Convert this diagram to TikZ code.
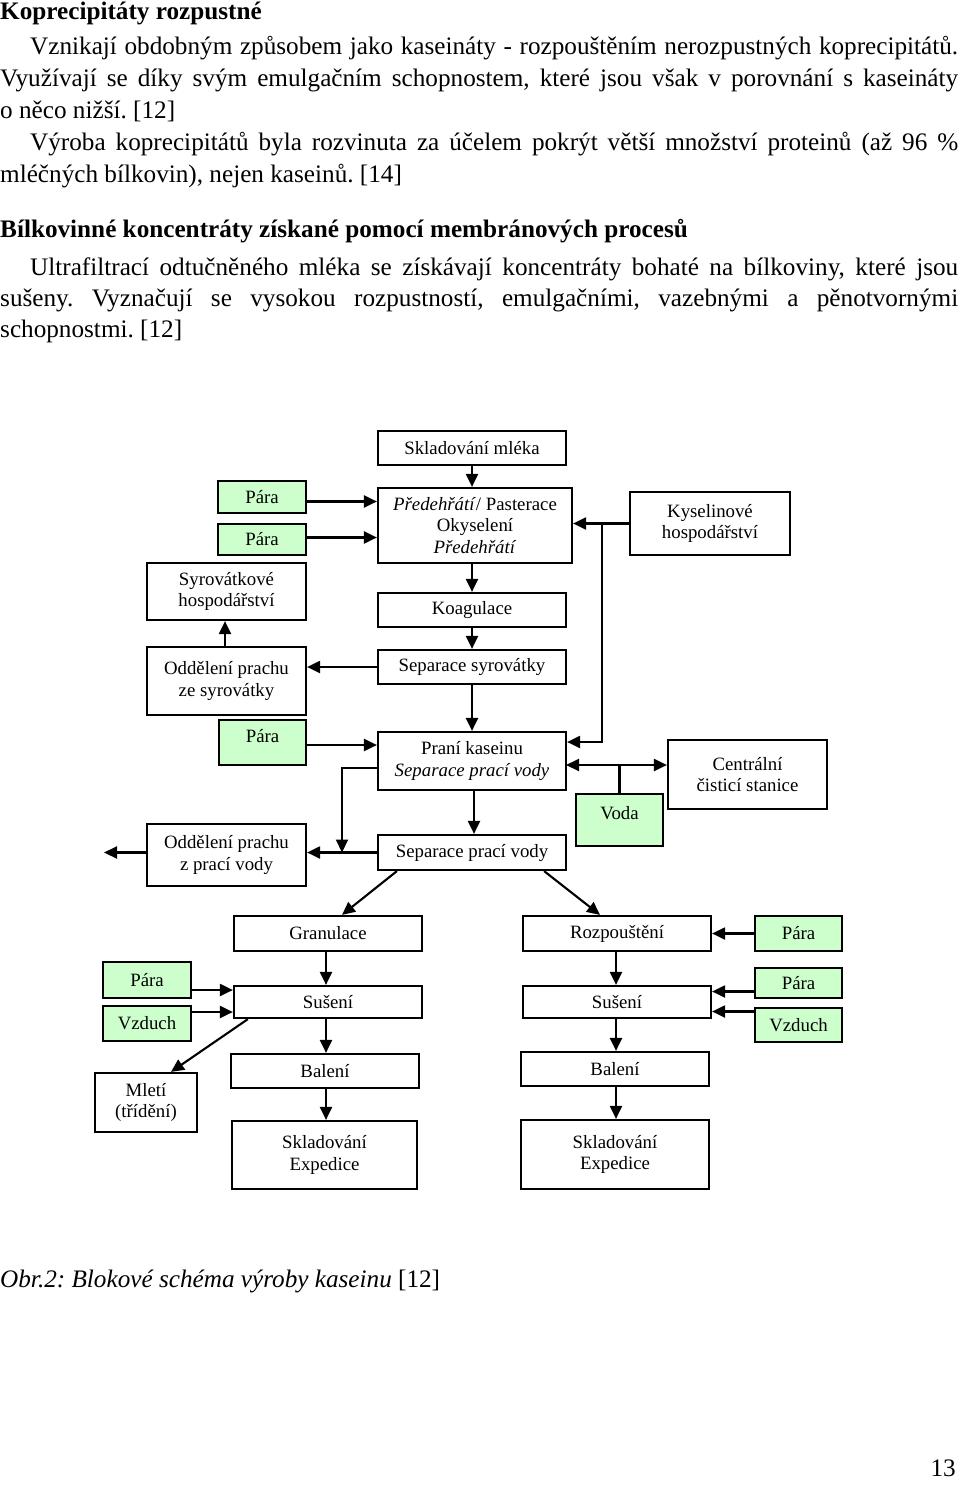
\documentclass[tikz,border=0pt]{standalone}
\usepackage{fontspec}
\setmainfont{Liberation Serif}
\usetikzlibrary{arrows.meta}

\definecolor{parni}{RGB}{204,255,204}
\newcommand{\txtsize}{\fontsize{25.2}{32}\selectfont}
\newcommand{\boxsize}{\fontsize{18.8}{21.7}\selectfont}
\frenchspacing

\tikzset{
	krok/.style={draw, line width=2.2pt, inner sep=0pt, align=center, font=\boxsize},
	medium/.style={krok, fill=parni},
	hrot/.tip={Triangle[length=13pt,width=12pt]},
	sipka/.style={line width=2.1pt, -hrot},
	odstavec/.style={anchor=base west, inner sep=0pt, text width=958pt, align=justify, font=\txtsize},
}

\begin{document}
\begin{tikzpicture}[x=1pt, y=-1pt]
	\useasboundingbox (0,0) rectangle (960,1487);
	
	\node[anchor=base west, inner sep=0pt, font=\txtsize\bfseries] (h1) at (0,19.5) {Koprecipitáty rozpustné};
	\node[odstavec] (p1) at (0,54.5) {\hyphenpenalty=10000\hspace*{30pt}Vznikají obdobným způsobem jako kaseináty - rozpouštěním nerozpustných koprecipitátů.\linebreak Využívají se díky svým emulgačním schopnostem, které jsou však v porovnání s kaseináty\linebreak o něco nižší. [12]};
	\node[odstavec] (p2) at (0,150.5) {\hyphenpenalty=10000\hspace*{30pt}Výroba koprecipitátů byla rozvinuta za účelem pokrýt větší množství proteinů (až 96~\%\linebreak mléčných bílkovin), nejen kaseinů. [14]};
	\node[anchor=base west, inner sep=0pt, font=\txtsize\bfseries] (h2) at (0,237.5) {Bílkovinné koncentráty získané pomocí membránových procesů};
	\node[odstavec, font=\fontsize{25.2}{31}\selectfont] (p3) at (0,275.5) {\hyphenpenalty=10000\hspace*{30pt}Ultrafiltrací odtučněného mléka se získávají koncentráty bohaté na bílkoviny, které jsou\linebreak sušeny. Vyznačují se vysokou rozpustností, emulgačními, vazebnými a pěnotvornými\linebreak schopnostmi. [12]};
	
	\node[krok, minimum width=188pt, minimum height=34pt] (mleko) at (472,448) {Skladování mléka};
	\node[krok, minimum width=194pt, minimum height=75pt] (pred) at (475,525.5) {\textit{Předehřátí}/ Pasterace\\Okyselení\\\textit{Předehřátí}};
	\node[medium, minimum width=88pt, minimum height=32pt] (para1) at (262,497) {Pára};
	\node[medium, minimum width=88pt, minimum height=31pt] (para2) at (262,539.5) {Pára};
	\node[krok, minimum width=160pt, minimum height=63pt] (kysel) at (710,523.5) {Kyselinové\\hospodářství};
	\node[krok, minimum width=159pt, minimum height=57pt] (syrhosp) at (226.5,591.5) {Syrovátkové\\hospodářství};
	\node[krok, minimum width=188pt, minimum height=34pt] (koag) at (472,610) {Koagulace};
	\node[krok, minimum width=188pt, minimum height=34pt] (sepsyr) at (472,667) {Separace syrovátky};
	\node[krok, minimum width=159pt, minimum height=68pt] (oddsyr) at (226.5,681) {Oddělení prachu\\ze syrovátky};
	\node[medium, minimum width=87pt, minimum height=45pt, text depth=13pt] (para3) at (262.5,742.5) {Pára};
	\node[krok, minimum width=188pt, minimum height=58pt] (prani) at (472,761) {Praní kaseinu\\\textit{Separace prací vody}};
	\node[krok, minimum width=159pt, minimum height=69pt] (centr) at (747.5,774.5) {Centrální\\čisticí stanice};
	\node[medium, minimum width=87pt, minimum height=52pt, text depth=14pt] (voda) at (619.5,820) {Voda};
	\node[krok, minimum width=188pt, minimum height=35pt] (seppv) at (472,852.5) {Separace prací vody};
	\node[krok, minimum width=159pt, minimum height=62pt] (oddpv) at (226.5,855) {Oddělení prachu\\z prací vody};
	
	\node[krok, minimum width=188pt, minimum height=35pt] (gran) at (328,933.5) {Granulace};
	\node[medium, minimum width=88pt, minimum height=36pt] (para4) at (147,980) {Pára};
	\node[medium, minimum width=88pt, minimum height=35pt] (vzduch1) at (147,1023.5) {Vzduch};
	\node[krok, minimum width=188pt, minimum height=32pt] (sus1) at (328,1002) {Sušení};
	\node[krok, minimum width=102pt, minimum height=59pt] (mleti) at (146,1102.5) {Mletí\\(třídění)};
	\node[krok, minimum width=188pt, minimum height=34pt] (bal1) at (325,1071) {Balení};
	\node[krok, minimum width=185pt, minimum height=68pt] (sklad1) at (324.5,1155) {Skladování\\Expedice};
	
	\node[krok, minimum width=188pt, minimum height=35pt] (rozp) at (617,933.5) {Rozpouštění};
	\node[medium, minimum width=87pt, minimum height=35pt] (para5) at (798.5,933.5) {Pára};
	\node[krok, minimum width=188pt, minimum height=32pt] (sus2) at (617,1002) {Sušení};
	\node[medium, minimum width=87pt, minimum height=30pt] (para6) at (798.5,983) {Pára};
	\node[medium, minimum width=87pt, minimum height=34pt] (vzduch2) at (798.5,1025) {Vzduch};
	\node[krok, minimum width=188pt, minimum height=34pt] (bal2) at (615,1069) {Balení};
	\node[krok, minimum width=188pt, minimum height=69pt] (sklad2) at (615,1154.5) {Skladování\\Expedice};
	
	\coordinate (kj) at (602,523.5);
	\coordinate (dv) at (566,765);
	\coordinate (wj) at (342,852.5);
	\coordinate (ven) at (104,852.5);
	
	\draw[sipka] (mleko.south) -- (mleko.south |- pred.north);
	\draw[sipka] (para1.east |- 0,501.5) -- (pred.west |- 0,501.5);
	\draw[sipka] (para2.east |- 0,537.5) -- (pred.west |- 0,537.5);
	\draw[sipka] (kysel.west) -- (pred.east |- kysel.west);
	\draw[sipka] (kj) |- (prani.east |- 0,742);
	\draw[sipka] (koag.north |- pred.south) -- (koag.north);
	\draw[sipka] (koag.south) -- (sepsyr.north);
	\draw[sipka] (sepsyr.west) -- (sepsyr.west -| oddsyr.east);
	\draw[sipka] (oddsyr.north -| 225,0) -- (syrhosp.south -| 225,0);
	\draw[sipka] (sepsyr.south) -- (prani.north);
	\draw[sipka] (para3.east |- 0,745) -- (prani.west |- 0,745);
	\draw[sipka] (prani.west |- 0,768) -| (wj);
	\draw[sipka] (seppv.west) -- (seppv.west -| oddpv.east);
	\draw[sipka] (oddpv.west |- wj) -- (ven);
	\draw[sipka] (prani.south -| 474,0) -- (seppv.north -| 474,0);
	\draw[sipka, hrot-hrot] (dv) -- (dv -| centr.west);
	\draw[line width=2.1pt] (voda.north) -- (voda.north |- dv);
	
	\draw[sipka] ([xshift=20pt]seppv.south west) -- ([xshift=14pt]gran.north);
	\draw[sipka] ([xshift=-23pt]seppv.south east) -- ([xshift=-17pt]rozp.north);
	
	\draw[sipka] (gran.south -| 326,0) -- (sus1.north -| 326,0);
	\draw[sipka] (sus1.south -| 326,0) -- (bal1.north -| 326,0);
	\draw[sipka] (bal1.south -| 326,0) -- (sklad1.north -| 326,0);
	\draw[sipka] (para4.east |- 0,990) -- (sus1.west |- 0,990);
	\draw[sipka] (vzduch1.east |- 0,1012) -- (sus1.west |- 0,1012);
	\draw[sipka] ([xshift=15pt]sus1.south west) -- ([xshift=25pt]mleti.north);
	
	\draw[sipka] (rozp.south -| 616,0) -- (sus2.north -| 616,0);
	\draw[sipka] (sus2.south -| 616,0) -- (bal2.north -| 616,0);
	\draw[sipka] (bal2.south -| 616,0) -- (sklad2.north -| 616,0);
	\draw[sipka] (para5.west) -- (para5.west -| rozp.east);
	\draw[sipka] (para6.west |- 0,991.5) -- (sus2.east |- 0,991.5);
	\draw[sipka] (vzduch2.west |- 0,1011.5) -- (sus2.east |- 0,1011.5);
	
	\node[anchor=base west, inner sep=0pt, font=\txtsize] (popis) at (0,1287.5) {\textit{Obr.2: Blokové schéma výroby kaseinu} [12]};
	\node[anchor=base east, inner sep=0pt, font=\txtsize] (strana) at (956,1476.5) {13};
	
\end{tikzpicture}
\end{document}
